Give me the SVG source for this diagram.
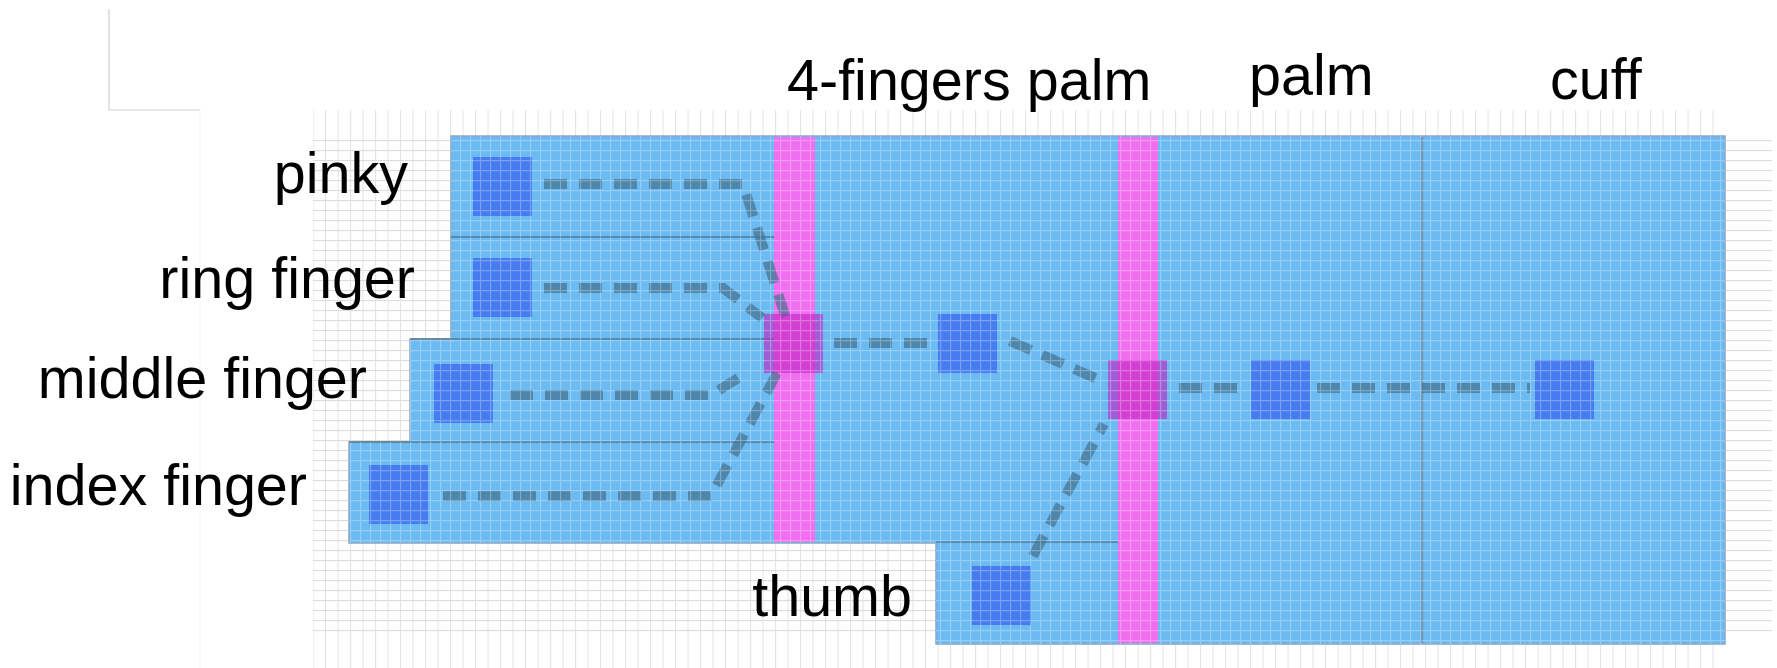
<svg xmlns="http://www.w3.org/2000/svg" width="1777" height="668" viewBox="0 0 1777 668">
<defs>
<pattern id="gh" width="10" height="10" patternUnits="userSpaceOnUse"><path d="M0 0.5H10" stroke="#dcdcdc" stroke-width="1.2"/></pattern>
<pattern id="gv" width="12.5" height="10" patternUnits="userSpaceOnUse"><path d="M0.5 0V10" stroke="#e4e4e4" stroke-width="1.2"/></pattern>
<pattern id="wg" width="10" height="10" patternUnits="userSpaceOnUse"><path d="M0 0.5H10M0.5 0V10" stroke="#ffffff" stroke-width="1.3" stroke-opacity="0.28"/></pattern>
</defs>
<style>
.lbl{font-family:"Liberation Sans",Arial,sans-serif;font-size:57.5px;fill:#000}
.hand{fill:#6cbaf2;stroke:#88a8c4;stroke-width:1.5}
.band{fill:#f06ef0}
.sq{fill:#467cf0}
.jn{fill:#c020c0;fill-opacity:0.6}
.sep{stroke:#3f5f78;stroke-width:1.6;stroke-opacity:0.7;fill:none}
.div{stroke:#6f8ca4;stroke-width:2.5;stroke-opacity:0.8;fill:none}
.con{fill:none;stroke:#41708f;stroke-opacity:0.7;stroke-width:10;stroke-dasharray:23 12}
</style>
<rect width="1777" height="668" fill="#ffffff"/>
<g id="grid">
<path d="M109 9V110H200" fill="none" stroke="#d0d0d0" stroke-width="1.2"/>
<path d="M200 110V668" fill="none" stroke="#f3f3f3" stroke-width="1"/>
<rect x="313" y="110" width="1412" height="558" fill="url(#gv)"/>
<rect x="313" y="137" width="1459" height="498" fill="url(#gh)"/>
</g>
<g id="hand">
<path class="hand" d="M451 136H1725V644H936V543H349V442H410V339H451Z"/>
<rect class="band" x="774" y="137" width="41" height="405"/>
<rect class="band" x="1118" y="137" width="40" height="506"/>
<path class="sep" d="M451 237H774M410 339H774M349 442H774M936 542H1118"/>
<path class="div" d="M1422 137V643"/>
</g>
<g id="connectors">
<path class="con" d="M544 184H743L787 322"/>
<path class="con" d="M544 288H723L762 318"/>
<path class="con" d="M510 395H711L748 372"/>
<path class="con" d="M443 496H711L777 373"/>
<path class="con" d="M834 343H930"/>
<path class="con" d="M1010 341L1102 381"/>
<path class="con" d="M1033 556L1104 424"/>
<path class="con" d="M1179 388H1245"/>
<path class="con" d="M1317 388H1530"/>
</g>
<g id="node-pinky"><rect class="sq" x="473" y="157" width="59" height="59"/></g>
<g id="node-ring"><rect class="sq" x="473" y="258" width="59" height="59"/></g>
<g id="node-middle"><rect class="sq" x="434" y="364" width="59" height="59"/></g>
<g id="node-index"><rect class="sq" x="369" y="465" width="59" height="59"/></g>
<g id="node-4fingers-joint"><rect class="jn" x="764" y="314" width="59" height="59"/></g>
<g id="node-4fingers-palm"><rect class="sq" x="938" y="314" width="59" height="59"/></g>
<g id="node-palm-joint"><rect class="jn" x="1108" y="360" width="59" height="59"/></g>
<g id="node-palm"><rect class="sq" x="1251" y="360" width="59" height="59"/></g>
<g id="node-cuff"><rect class="sq" x="1535" y="360" width="59" height="59"/></g>
<g id="node-thumb"><rect class="sq" x="972" y="566" width="59" height="59"/></g>
<path d="M451 136H1725V644H936V543H349V442H410V339H451Z" fill="url(#wg)"/>
<g id="labels">
<text class="lbl" x="787" y="100">4-fingers palm</text>
<text class="lbl" x="1249" y="95">palm</text>
<text class="lbl" x="1550" y="99">cuff</text>
<text class="lbl" x="408" y="193" text-anchor="end">pinky</text>
<text class="lbl" x="415" y="298" text-anchor="end">ring finger</text>
<text class="lbl" x="367" y="398" text-anchor="end">middle finger</text>
<text class="lbl" x="307" y="505" text-anchor="end">index finger</text>
<text class="lbl" x="912" y="616" text-anchor="end">thumb</text>
</g>
</svg>
